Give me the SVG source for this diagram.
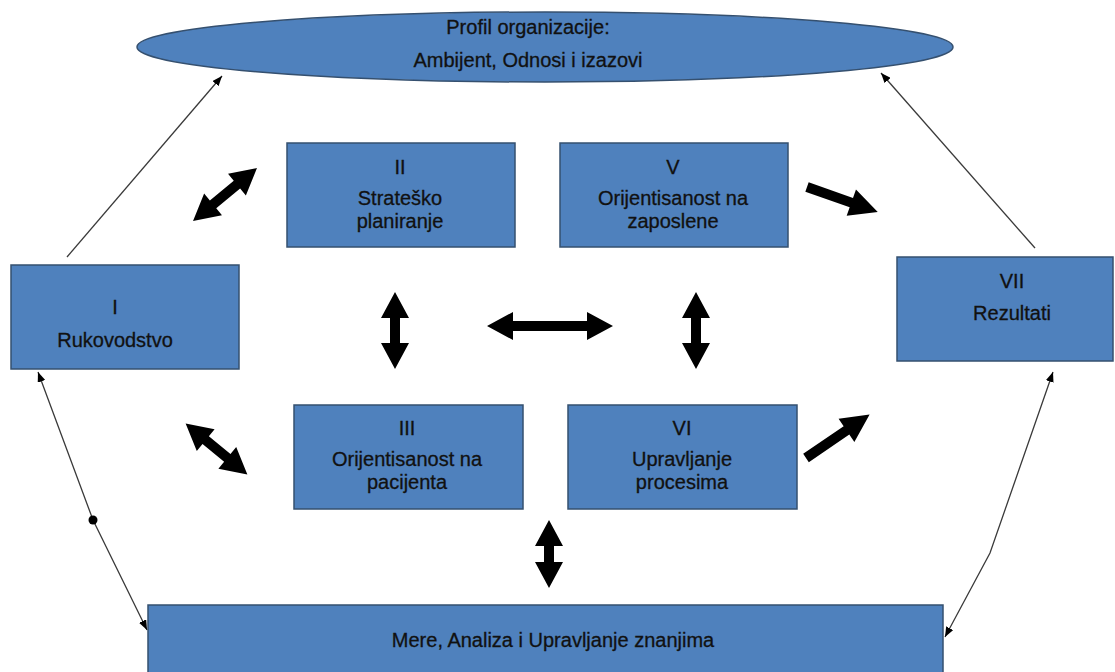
<svg xmlns="http://www.w3.org/2000/svg" width="1115" height="672" viewBox="0 0 1115 672">
<style>
.box{fill:#4F81BD;stroke:#35506F;stroke-width:1.5}
.lbl{font-family:"Liberation Sans",Arial,sans-serif;font-size:20px;fill:#111;stroke:#111;stroke-width:0.3;text-anchor:middle}
.thick{fill:#000}
.thin{fill:none;stroke:#3a3a3a;stroke-width:1.3}
</style>
<defs>
<marker id="ah" viewBox="0 0 10 8" refX="10" refY="4" markerWidth="10" markerHeight="8" markerUnits="userSpaceOnUse" orient="auto-start-reverse">
<path d="M0,0 L10,4 L0,8 z" fill="#000"/>
</marker>
</defs>
<rect width="1115" height="672" fill="#fff"/>

<g id="profil">
<ellipse class="box" cx="545" cy="47" rx="408" ry="35"/>
<text class="lbl" x="528" y="34">Profil organizacije:</text>
<text class="lbl" x="528" y="67">Ambijent, Odnosi i izazovi</text>
</g>

<g id="rukovodstvo">
<rect class="box" x="11" y="265" width="228" height="104"/>
<text class="lbl" x="115" y="314">I</text>
<text class="lbl" x="115" y="347">Rukovodstvo</text>
</g>

<g id="stratesko">
<rect class="box" x="287" y="143" width="228" height="104"/>
<text class="lbl" x="400" y="174">II</text>
<text class="lbl" x="400" y="205">Strateško</text>
<text class="lbl" x="400" y="228">planiranje</text>
</g>

<g id="zaposlene">
<rect class="box" x="560" y="143" width="228" height="104"/>
<text class="lbl" x="673" y="174">V</text>
<text class="lbl" x="673" y="205">Orijentisanost na</text>
<text class="lbl" x="673" y="228">zaposlene</text>
</g>

<g id="rezultati">
<rect class="box" x="897" y="257" width="216" height="104"/>
<text class="lbl" x="1012" y="288">VII</text>
<text class="lbl" x="1012" y="320">Rezultati</text>
</g>

<g id="pacijenta">
<rect class="box" x="294" y="405" width="229" height="104"/>
<text class="lbl" x="407" y="435">III</text>
<text class="lbl" x="407" y="466">Orijentisanost na</text>
<text class="lbl" x="407" y="489">pacijenta</text>
</g>

<g id="procesi">
<rect class="box" x="568" y="405" width="229" height="104"/>
<text class="lbl" x="682" y="435">VI</text>
<text class="lbl" x="682" y="466">Upravljanje</text>
<text class="lbl" x="682" y="489">procesima</text>
</g>

<g id="mere">
<rect class="box" x="148" y="605" width="795" height="80"/>
<text class="lbl" x="553" y="647">Mere, Analiza i Upravljanje znanjima</text>
</g>

<g id="connectors">
<path class="thin" d="M67,257 L222,76" marker-end="url(#ah)"/>
<path class="thin" d="M1035,248 L881,73" marker-end="url(#ah)"/>
<path class="thin" d="M38,372 L93,520 L147,630" marker-start="url(#ah)" marker-end="url(#ah)"/>
<circle cx="93" cy="520" r="4.5" fill="#000"/>
<path class="thin" d="M1053,372 L990,553 L945,637" marker-start="url(#ah)" marker-end="url(#ah)"/>

<polygon class="thick" transform="translate(225,194.5) rotate(-39.6)" points="-41.5,0 -15.5,-14 -15.5,-5 15.5,-5 15.5,-14 41.5,0 15.5,14 15.5,5 -15.5,5 -15.5,14"/>
<polygon class="thick" transform="translate(216.5,449) rotate(39.5)" points="-40,0 -14,-14 -14,-5 14,-5 14,-14 40,0 14,14 14,5 -14,5 -14,14"/>
<polygon class="thick" transform="translate(395,330.5) rotate(90)" points="-38.5,0 -12.5,-14 -12.5,-5 12.5,-5 12.5,-14 38.5,0 12.5,14 12.5,5 -12.5,5 -12.5,14"/>
<polygon class="thick" transform="translate(696,330.5) rotate(90)" points="-38.5,0 -12.5,-14 -12.5,-5 12.5,-5 12.5,-14 38.5,0 12.5,14 12.5,5 -12.5,5 -12.5,14"/>
<polygon class="thick" transform="translate(550,326)" points="-63,0 -37,-14 -37,-5 37,-5 37,-14 63,0 37,14 37,5 -37,5 -37,14"/>
<polygon class="thick" transform="translate(549,554) rotate(90)" points="-34,0 -8,-14 -8,-5 8,-5 8,-14 34,0 8,14 8,5 -8,5 -8,14"/>
<polygon class="thick" transform="translate(807,187) rotate(19.4)" points="0,-5 47,-5 47,-14 75,0 47,14 47,5 0,5"/>
<polygon class="thick" transform="translate(806,458) rotate(-34.3)" points="0,-5 49,-5 49,-14 77,0 49,14 49,5 0,5"/>
</g>
</svg>
